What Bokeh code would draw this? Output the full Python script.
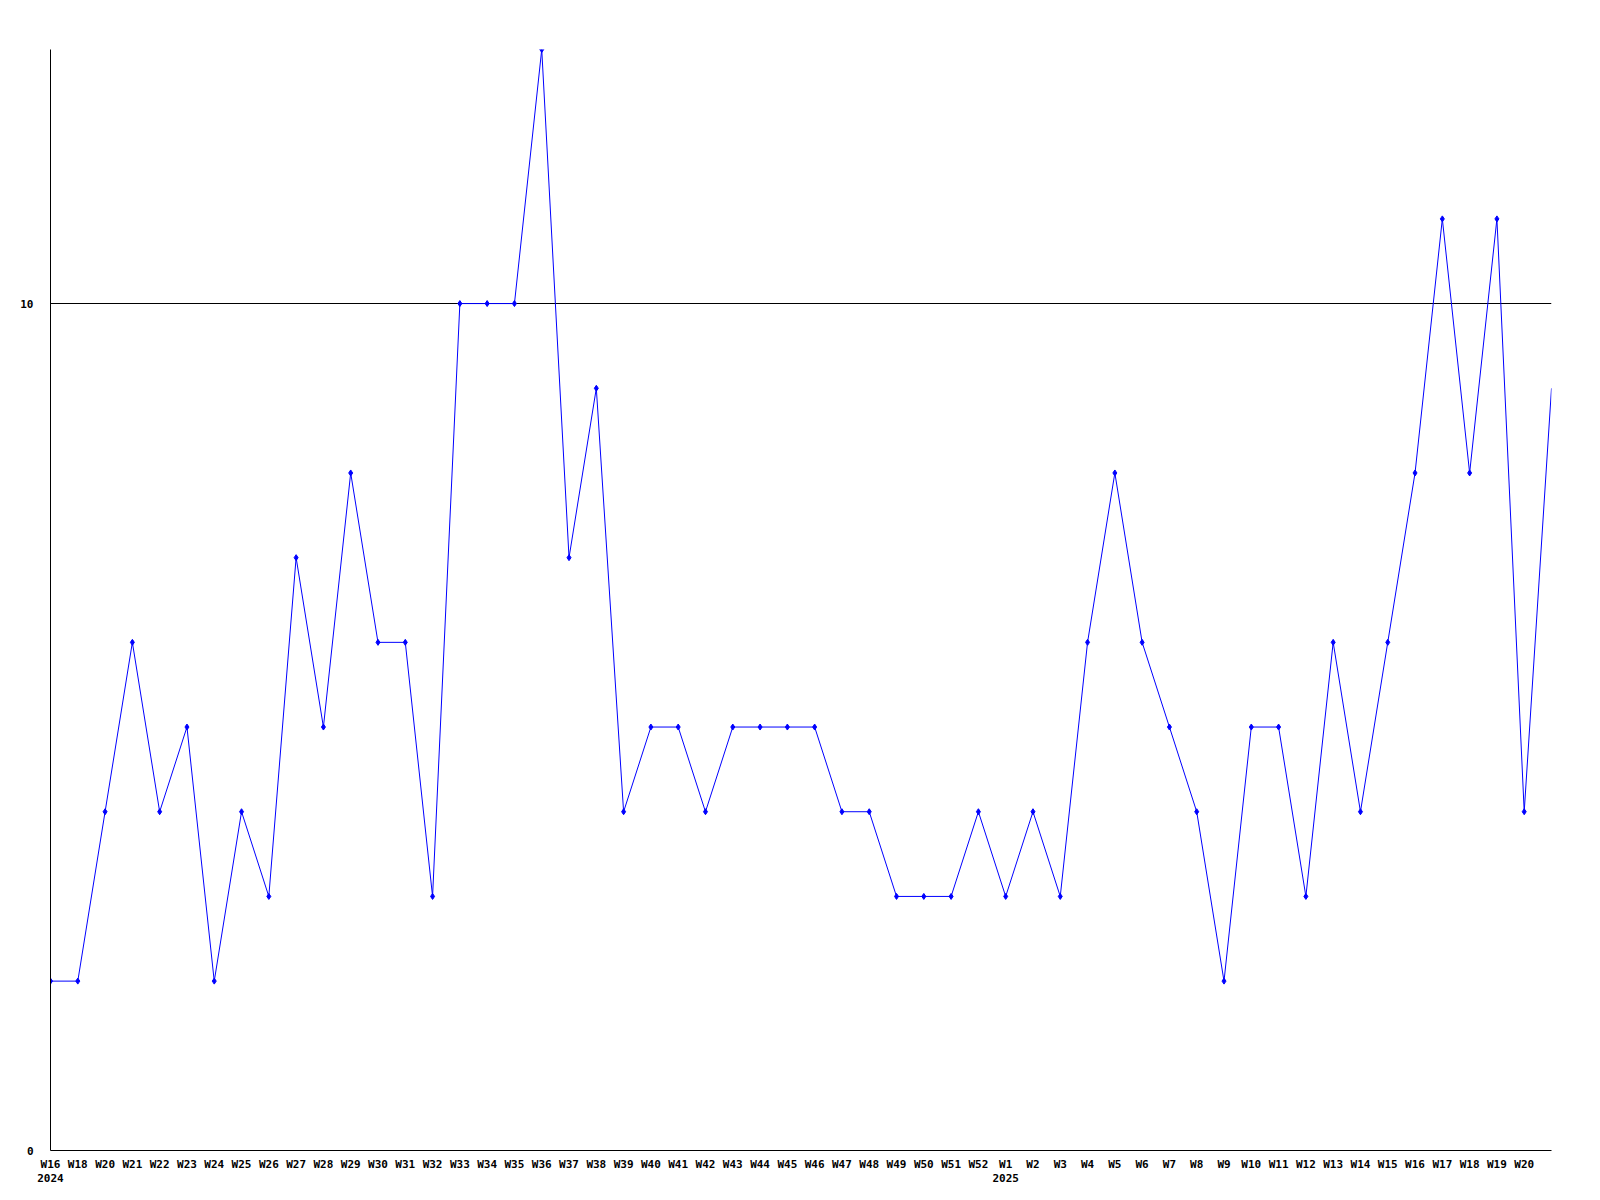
from bokeh.plotting import figure
from bokeh.models import FixedTicker, Range1d, LinearAxis
from bokeh.embed import file_html
from bokeh.resources import INLINE

weeks = ["W16", "W18", "W20", "W21", "W22", "W23", "W24", "W25", "W26", "W27",
         "W28", "W29", "W30", "W31", "W32", "W33", "W34", "W35", "W36", "W37",
         "W38", "W39", "W40", "W41", "W42", "W43", "W44", "W45", "W46", "W47",
         "W48", "W49", "W50", "W51", "W52",
         "W1", "W2", "W3", "W4", "W5", "W6", "W7", "W8", "W9", "W10",
         "W11", "W12", "W13", "W14", "W15", "W16", "W17", "W18", "W19", "W20",
         "W21"]
year_marks = {0: "2024", 35: "2025"}
values = [2, 2, 4, 6, 4, 5, 2, 4, 3, 7,
          5, 8, 6, 6, 3, 10, 10, 10, 13, 7,
          9, 4, 5, 5, 4, 5, 5, 5, 5, 4,
          4, 3, 3, 3, 4,
          3, 4, 3, 6, 8, 6, 5, 4, 2, 5,
          5, 3, 6, 4, 6, 8, 11, 8, 11, 4,
          9]
n_labeled = 55
y_ticks = [0, 10]

xs = list(range(len(values)))

p = figure(width=1584, height=1184, output_backend="svg", toolbar_location=None,
           x_range=Range1d(0, len(values) - 1), y_range=Range1d(0, 13),
           min_border_left=50, min_border_right=33, min_border_top=49, min_border_bottom=34)
p.outline_line_color = None
p.background_fill_color = "white"
p.border_fill_color = "white"

p.line(xs, values, line_color="#0000ff", line_width=1)
p.scatter(xs[:n_labeled], values[:n_labeled], marker="diamond", size=6,
          fill_color="#0000ff", line_color="#0000ff")

font = "DejaVu Sans Mono"


def style_axis(ax, standoff):
    ax.major_tick_in = 0
    ax.major_tick_out = 0
    ax.minor_tick_in = 0
    ax.minor_tick_out = 0
    ax.major_label_standoff = standoff
    ax.major_label_text_font = font
    ax.major_label_text_font_style = "bold"
    ax.major_label_text_font_size = "11px"
    ax.major_label_text_color = "black"


xa = p.xaxis[0]
xa.ticker = FixedTicker(ticks=list(range(n_labeled)))
xa.major_label_overrides = {i: weeks[i] for i in range(n_labeled)}
style_axis(xa, 7)
xa.axis_line_color = "black"

year_axis = LinearAxis(ticker=FixedTicker(ticks=list(year_marks.keys())),
                       major_label_overrides=dict(year_marks))
style_axis(year_axis, 0)
year_axis.axis_line_color = None
p.add_layout(year_axis, "below")

ya = p.yaxis[0]
ya.ticker = FixedTicker(ticks=y_ticks)
style_axis(ya, 17)
ya.axis_line_color = "black"

p.xgrid.grid_line_color = None
p.ygrid.ticker = FixedTicker(ticks=y_ticks)
p.ygrid.grid_line_color = "black"
p.ygrid.grid_line_alpha = 1.0

open("out.html", "w").write(file_html(p, INLINE))
